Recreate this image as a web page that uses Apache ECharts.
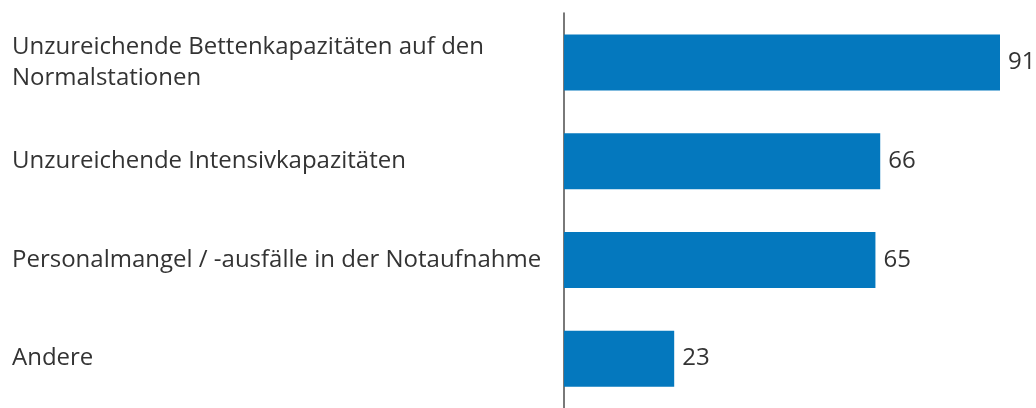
<!DOCTYPE html>
<html>
<head>
<meta charset="utf-8">
<script src="https://cdn.jsdelivr.net/npm/echarts@6/dist/echarts.min.js"></script>
<style>
    html, body { margin: 0; padding: 0; background: #fff; }
    #chart { width: 1036px; height: 408px; }
</style>
</head>
<body>
<div id="chart"></div>
<script>
    var categories = [
        'Unzureichende Bettenkapazitäten auf den\nNormalstationen',
        'Unzureichende Intensivkapazitäten',
        'Personalmangel / -ausfälle in der Notaufnahme',
        'Andere'
    ];
    var values = [91, 66, 65, 23];

    var chart = echarts.init(document.getElementById('chart'));
    var option = {
        backgroundColor: '#fff',
        animation: false,
        grid: {
            left: 564,
            top: 13,
            width: 436,
            height: 400
        },
        xAxis: {
            type: 'value',
            min: 0,
            max: 91,
            show: false
        },
        yAxis: {
            type: 'category',
            data: categories,
            inverse: true,
            axisLine: { show: true, lineStyle: { color: '#4d4d4d', width: 1.5 } },
            axisTick: { show: false },
            axisLabel: {
                align: 'left',
                margin: 552,
                color: '#333',
                fontSize: 24,
                lineHeight: 31,
                fontFamily: 'Open Sans'
            }
        },
        series: [{
            type: 'bar',
            data: values,
            barWidth: 56,
            itemStyle: { color: '#0478be' },
            label: {
                show: true,
                position: 'right',
                distance: 8,
                color: '#333',
                fontSize: 24,
                fontFamily: 'Open Sans'
            }
        }]
    };
    chart.setOption(option);
</script>
</body>
</html>
